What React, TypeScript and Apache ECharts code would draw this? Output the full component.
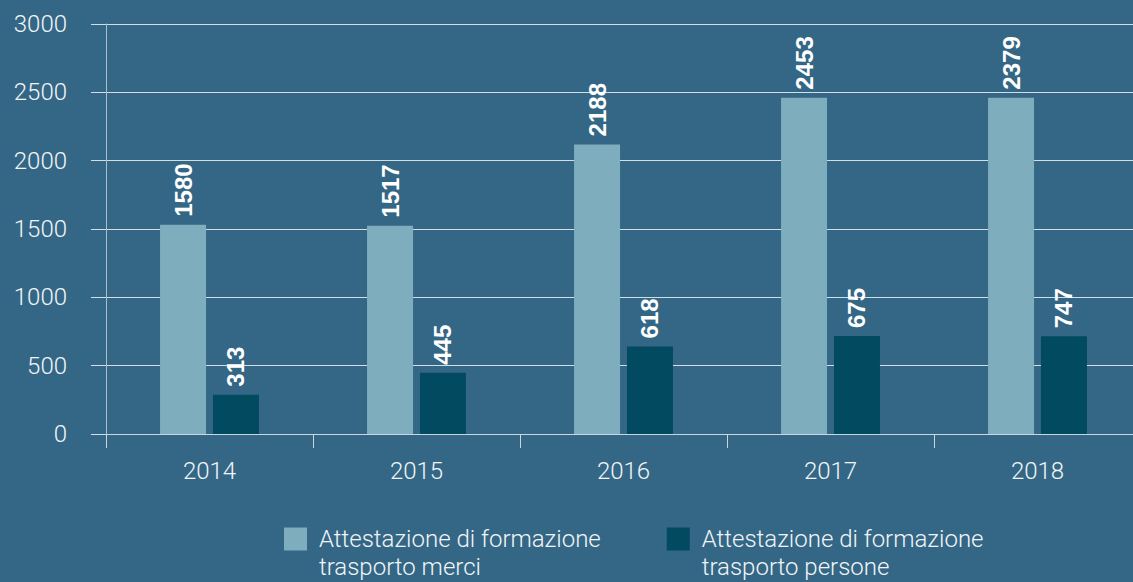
import React, { useEffect, useRef } from "react";
import * as echarts from "echarts";

const years = ["2014", "2015", "2016", "2017", "2018"];
// bar heights as drawn in the reference
const merciBars = [1531, 1524, 2119, 2461, 2461];
const personeBars = [288, 448, 641, 717, 715];
// value labels printed above the bars
const merciLabels = [1580, 1517, 2188, 2453, 2379];
const personeLabels = [313, 445, 618, 675, 747];
const seriesNames = [
  "Attestazione di formazione\ntrasporto merci",
  "Attestazione di formazione\ntrasporto persone",
];
const yTicks = { min: 0, max: 3000, interval: 500 };

const FONT = "Roboto, 'Helvetica Neue', 'Liberation Sans', Arial, sans-serif";
const BOLD_FONT = "'Liberation Sans', Arial, sans-serif";

export default function App() {
  const ref = useRef<HTMLDivElement>(null);
  useEffect(() => {
    if (!ref.current) return;
    const chart = echarts.init(ref.current, undefined, { renderer: "svg" });
    const labelCfg = (arr: number[]) => ({
      show: true,
      position: "top" as const,
      distance: 8,
      rotate: 90,
      align: "left" as const,
      verticalAlign: "middle" as const,
      color: "#ffffff",
      fontSize: 24,
      fontWeight: "bold" as const,
      fontFamily: BOLD_FONT,
      formatter: (p: any) => String(arr[p.dataIndex]),
    });
    chart.setOption({
      animation: false,
      backgroundColor: "#346786",
      grid: {
        left: 106,
        top: 24,
        width: 1035,
        height: 410,
        containLabel: false,
        outerBoundsMode: "none",
      },
      legend: {
        left: 284,
        top: 497,
        padding: 0,
        itemWidth: 23,
        itemHeight: 23,
        itemGap: 66,
        icon: "rect",
        formatter: (name: string) => "\n" + name,
        textStyle: {
          color: "#f2f5f7",
          fontSize: 24,
          fontWeight: 300,
          fontFamily: FONT,
          lineHeight: 28,
          padding: [0, 0, 0, 7],
        },
        data: seriesNames,
      },
      xAxis: {
        type: "category",
        data: years,
        axisLine: { show: true, lineStyle: { color: "#c9d6de", width: 1 } },
        axisTick: { show: true, length: 14, alignWithLabel: false, lineStyle: { color: "#c9d6de" } },
        axisLabel: { color: "#f2f5f7", fontSize: 24, fontWeight: 300, fontFamily: FONT, margin: 25 },
        splitLine: { show: false },
      },
      yAxis: {
        type: "value",
        min: yTicks.min,
        max: yTicks.max,
        interval: yTicks.interval,
        axisLine: { show: true, lineStyle: { color: "#a9c0cf", width: 1 } },
        axisTick: { show: true, length: 15, lineStyle: { color: "#d3dde4" } },
        axisLabel: {
          color: "#f2f5f7",
          fontSize: 24,
          fontWeight: 300,
          fontFamily: FONT,
          margin: 39,
          formatter: (v: number) => String(v),
        },
        splitLine: { show: true, lineStyle: { color: "#d3dde4", width: 1 } },
      },
      series: [
        {
          name: seriesNames[0],
          type: "bar",
          data: merciBars,
          barWidth: 46,
          barGap: "15%",
          itemStyle: { color: "#7eadbd" },
          label: labelCfg(merciLabels),
        },
        {
          name: seriesNames[1],
          type: "bar",
          data: personeBars,
          barWidth: 46,
          barGap: "15%",
          itemStyle: { color: "#014a5f" },
          label: labelCfg(personeLabels),
        },
      ],
    });
    return () => chart.dispose();
  }, []);
  return (
    <div
      ref={ref}
      style={{ position: "absolute", left: 0, top: 0, width: 1133, height: 582 }}
    />
  );
}
